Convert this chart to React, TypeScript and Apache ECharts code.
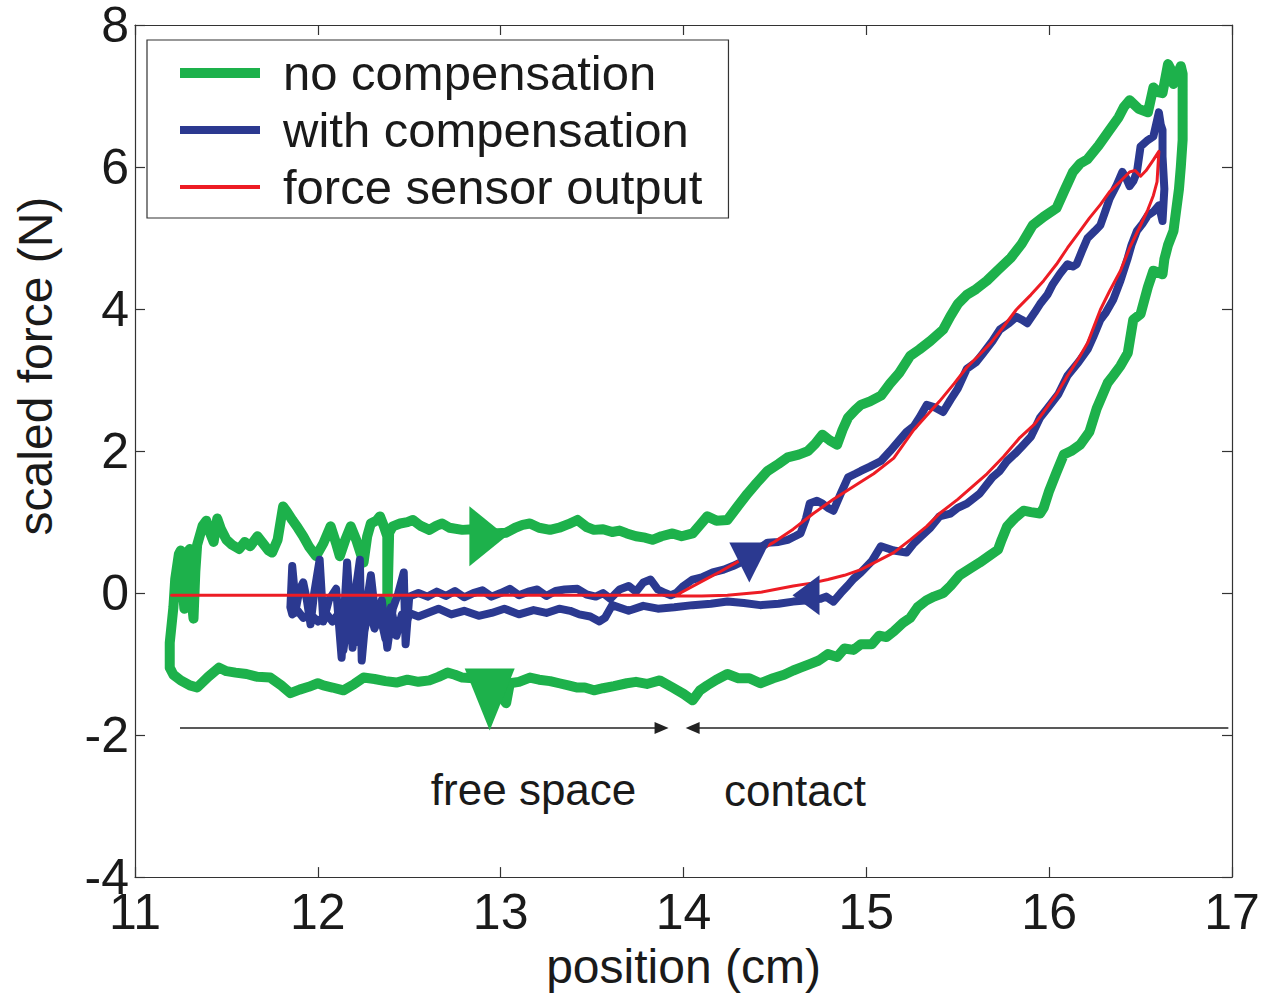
import React, { useEffect, useRef } from "react";
import * as echarts from "echarts";

// ---------- data ----------
const xTicks = [11, 12, 13, 14, 15, 16, 17];
const yTicks = [-4, -2, 0, 2, 4, 6, 8];

// "no compensation" loop (green), traced in pieces
const greenLeft: number[][] = [
  [11.19, -1.05], [11.19, -0.7], [11.21, -0.2], [11.22, 0.2], [11.24, 0.55], [11.25, 0.6],
  [11.26, 0.1], [11.27, -0.22], [11.28, 0.55], [11.3, 0.62], [11.31, -0.1], [11.32, -0.36],
  [11.33, 0.3], [11.34, 0.68], [11.37, 0.95], [11.39, 1.02],
];
const greenUpper: number[][] = [
  [11.41, 0.85], [11.43, 0.72], [11.45, 1.05], [11.47, 0.9], [11.5, 0.75], [11.53, 0.68],
  [11.57, 0.62], [11.6, 0.72], [11.63, 0.66], [11.67, 0.8], [11.7, 0.7], [11.73, 0.6],
  [11.75, 0.57], [11.78, 0.75], [11.81, 1.22], [11.83, 1.15], [11.86, 1.03], [11.89, 0.92],
  [11.92, 0.8], [11.95, 0.66], [11.99, 0.52], [12.03, 0.7], [12.07, 0.94], [12.1, 0.7],
  [12.12, 0.52], [12.15, 0.75], [12.18, 0.94], [12.21, 0.75], [12.25, 0.43], [12.27, 0.8],
  [12.29, 0.98], [12.32, 1.02], [12.34, 1.08], [12.36, 0.95], [12.38, 0.8], [12.38, -0.24],
  [12.39, 0.85], [12.41, 0.94], [12.45, 0.98], [12.49, 1.0], [12.52, 1.03], [12.56, 0.95],
  [12.61, 0.89], [12.65, 0.95], [12.68, 0.98], [12.72, 0.92], [12.79, 0.89], [12.85, 0.9],
  [12.9, 0.86], [12.96, 0.84], [13.03, 0.85], [13.08, 0.92], [13.12, 0.96], [13.16, 0.98],
  [13.21, 0.92], [13.27, 0.89], [13.32, 0.92], [13.37, 0.97], [13.42, 1.03], [13.47, 0.93],
  [13.51, 0.89], [13.56, 0.9], [13.61, 0.86], [13.65, 0.88], [13.69, 0.84], [13.74, 0.8],
  [13.79, 0.78], [13.83, 0.75], [13.88, 0.8], [13.94, 0.84], [13.99, 0.8], [14.05, 0.84],
  [14.09, 0.96], [14.13, 1.08], [14.18, 1.02], [14.24, 1.03], [14.29, 1.2], [14.35, 1.4],
  [14.4, 1.55], [14.46, 1.72], [14.52, 1.82], [14.57, 1.91], [14.63, 1.95], [14.68, 2.0],
  [14.72, 2.1], [14.76, 2.23], [14.8, 2.15], [14.84, 2.09], [14.87, 2.3], [14.9, 2.47],
  [14.94, 2.58], [14.97, 2.65], [15.02, 2.7], [15.08, 2.78], [15.13, 2.95], [15.18, 3.1],
  [15.24, 3.34], [15.29, 3.43], [15.35, 3.55], [15.42, 3.71], [15.46, 3.9], [15.5, 4.07],
  [15.55, 4.2], [15.6, 4.28], [15.66, 4.4], [15.72, 4.55], [15.79, 4.72], [15.85, 4.92],
  [15.91, 5.18], [15.97, 5.3], [16.04, 5.42], [16.08, 5.65], [16.13, 5.93], [16.17, 6.05],
  [16.21, 6.11], [16.27, 6.3], [16.33, 6.52], [16.38, 6.7], [16.41, 6.85], [16.44, 6.94],
  [16.49, 6.82], [16.54, 6.77], [16.57, 7.12], [16.6, 7.05], [16.62, 7.04], [16.65, 7.45],
  [16.67, 7.35], [16.68, 7.17], [16.7, 7.3], [16.72, 7.42], [16.73, 7.31],
];
const greenRight: number[][] = [
  [16.73, 6.9], [16.73, 6.38], [16.72, 6.0], [16.71, 5.69], [16.69, 5.3], [16.68, 5.1],
  [16.65, 4.9], [16.63, 4.7], [16.62, 4.49], [16.57, 4.54], [16.54, 4.31], [16.5, 3.93],
  [16.46, 3.85], [16.43, 3.38], [16.39, 3.2], [16.35, 3.06], [16.32, 2.96], [16.26, 2.6],
  [16.22, 2.27],
];
const greenLower: number[][] = [
  [16.17, 2.09], [16.12, 2.0], [16.08, 1.95], [16.04, 1.7], [16.0, 1.44], [15.97, 1.2],
  [15.95, 1.12], [15.9, 1.14], [15.86, 1.16], [15.81, 1.05], [15.77, 0.94], [15.74, 0.75],
  [15.72, 0.61], [15.67, 0.52], [15.62, 0.43], [15.57, 0.35], [15.51, 0.25], [15.46, 0.1],
  [15.42, 0.0], [15.37, -0.05], [15.33, -0.1], [15.28, -0.2], [15.24, -0.35], [15.2, -0.42],
  [15.15, -0.54], [15.11, -0.62], [15.07, -0.6], [15.03, -0.72], [14.97, -0.72], [14.93, -0.8],
  [14.88, -0.78], [14.84, -0.9], [14.79, -0.86], [14.74, -0.95], [14.69, -1.0], [14.64, -1.05],
  [14.6, -1.09], [14.55, -1.15], [14.49, -1.2], [14.42, -1.27], [14.36, -1.2], [14.3, -1.2],
  [14.24, -1.14], [14.18, -1.22], [14.13, -1.3], [14.09, -1.37], [14.05, -1.51], [14.0, -1.42],
  [13.94, -1.33], [13.87, -1.23], [13.8, -1.28], [13.74, -1.25], [13.69, -1.27], [13.62, -1.31],
  [13.56, -1.34], [13.51, -1.37], [13.46, -1.33], [13.42, -1.33], [13.37, -1.3], [13.32, -1.27],
  [13.27, -1.24], [13.21, -1.22], [13.16, -1.19], [13.1, -1.25], [13.05, -1.27], [13.03, -1.55],
  [13.0, -1.45], [12.95, -1.3], [12.9, -1.22], [12.85, -1.2], [12.79, -1.19], [12.75, -1.15],
  [12.71, -1.12], [12.66, -1.18], [12.61, -1.23], [12.55, -1.25], [12.49, -1.22], [12.43, -1.26],
  [12.37, -1.24], [12.31, -1.21], [12.25, -1.19], [12.2, -1.28], [12.14, -1.37], [12.08, -1.33],
  [12.03, -1.3], [12.0, -1.27], [11.95, -1.32], [11.9, -1.36], [11.85, -1.41], [11.8, -1.3],
  [11.74, -1.19], [11.67, -1.18], [11.61, -1.14], [11.55, -1.12], [11.5, -1.1], [11.46, -1.05],
  [11.4, -1.18], [11.34, -1.33], [11.3, -1.3], [11.25, -1.23], [11.21, -1.15], [11.19, -1.05],
];

// "with compensation" (blue)
const blueFreeOut: number[][] = [
  [11.85, -0.2], [11.86, 0.38], [11.87, 0.1], [11.88, -0.22], [11.9, 0.05], [11.92, 0.15],
  [11.94, -0.1], [11.96, -0.44], [11.98, 0.0], [12.01, 0.47], [12.03, -0.4], [12.06, -0.1],
  [12.1, 0.06], [12.13, -0.91], [12.16, 0.43], [12.19, -0.77], [12.21, 0.1], [12.23, 0.47],
  [12.24, -0.95], [12.27, -0.1], [12.29, 0.25], [12.32, -0.44], [12.35, -0.1], [12.38, -0.77],
  [12.41, -0.22], [12.44, 0.0], [12.47, 0.29], [12.48, -0.72], [12.5, -0.05], [12.55, 0.0],
  [12.6, -0.05], [12.65, 0.02], [12.7, -0.04], [12.75, 0.03], [12.8, -0.06], [12.85, 0.0],
  [12.9, 0.04], [12.95, -0.05], [13.0, 0.0], [13.05, 0.06], [13.1, -0.03], [13.15, 0.02],
  [13.2, 0.05], [13.25, -0.04], [13.3, 0.03], [13.35, 0.05], [13.42, 0.06], [13.47, -0.02],
  [13.52, -0.05], [13.56, 0.0], [13.6, -0.08], [13.65, 0.05], [13.7, 0.1], [13.74, 0.02],
  [13.78, 0.15], [13.82, 0.19], [13.86, 0.05], [13.9, 0.0], [13.93, -0.03],
];
const blueLoading: number[][] = [
  [13.96, 0.0], [14.0, 0.1], [14.05, 0.19], [14.1, 0.22], [14.16, 0.29], [14.22, 0.33],
  [14.27, 0.38], [14.31, 0.43], [14.36, 0.5], [14.41, 0.62], [14.46, 0.71], [14.52, 0.72],
  [14.57, 0.75], [14.61, 0.8], [14.64, 0.84], [14.67, 1.05], [14.69, 1.26], [14.73, 1.3],
  [14.76, 1.26], [14.79, 1.2], [14.82, 1.16], [14.86, 1.4], [14.9, 1.63], [14.94, 1.68],
  [14.97, 1.72], [15.02, 1.78], [15.08, 1.86], [15.13, 2.0], [15.18, 2.15], [15.22, 2.27],
  [15.26, 2.35], [15.29, 2.47], [15.33, 2.65], [15.37, 2.62], [15.42, 2.55], [15.46, 2.72],
  [15.5, 2.88], [15.55, 3.16], [15.6, 3.25], [15.64, 3.38], [15.69, 3.55], [15.73, 3.71],
  [15.78, 3.8], [15.82, 3.89], [15.85, 3.85], [15.88, 3.8], [15.92, 3.95], [15.95, 4.07],
  [15.99, 4.2], [16.02, 4.35], [16.06, 4.5], [16.1, 4.63], [16.13, 4.6], [16.15, 4.63],
  [16.18, 4.82], [16.21, 5.0], [16.25, 5.1], [16.28, 5.18], [16.31, 5.4], [16.33, 5.55],
  [16.37, 5.75], [16.4, 5.93], [16.42, 5.85], [16.44, 5.73], [16.46, 5.8], [16.48, 5.93],
  [16.5, 6.29], [16.54, 6.38], [16.57, 6.43], [16.6, 6.77], [16.61, 6.6], [16.62, 6.52],
  [16.62, 6.15], [16.63, 5.69], [16.62, 5.24], [16.6, 5.46], [16.57, 5.37], [16.54, 5.32],
];
const blueUnloading: number[][] = [
  [16.51, 5.2], [16.48, 5.1], [16.45, 4.9], [16.43, 4.72], [16.39, 4.4], [16.35, 4.13],
  [16.31, 3.95], [16.28, 3.85], [16.24, 3.6], [16.21, 3.43], [16.16, 3.25], [16.1, 3.06],
  [16.05, 2.8], [15.99, 2.6], [15.95, 2.47], [15.9, 2.2], [15.86, 2.09], [15.82, 1.98],
  [15.77, 1.86], [15.73, 1.72], [15.69, 1.63], [15.62, 1.4], [15.55, 1.26], [15.5, 1.2],
  [15.46, 1.12], [15.4, 1.08], [15.35, 0.92], [15.3, 0.8], [15.26, 0.7], [15.22, 0.57],
  [15.15, 0.6], [15.08, 0.66], [15.03, 0.45], [14.97, 0.29], [14.93, 0.2], [14.9, 0.11],
  [14.86, 0.0], [14.82, -0.12], [14.78, -0.05], [14.75, -0.08], [14.68, -0.1], [14.6, -0.12],
  [14.52, -0.15], [14.42, -0.17], [14.33, -0.14], [14.24, -0.12], [14.15, -0.15], [14.05, -0.17],
  [13.95, -0.2], [13.86, -0.22], [13.78, -0.18], [13.7, -0.25], [13.61, -0.17], [13.57, -0.35],
  [13.54, -0.4], [13.49, -0.33], [13.43, -0.3], [13.38, -0.25], [13.32, -0.22], [13.25, -0.28],
  [13.18, -0.24], [13.1, -0.3], [13.02, -0.22], [12.95, -0.28], [12.88, -0.32], [12.8, -0.25],
  [12.73, -0.3], [12.66, -0.22], [12.6, -0.28], [12.55, -0.33], [12.5, -0.28], [12.48, -0.5],
  [12.46, -0.3], [12.43, -0.6], [12.4, -0.2], [12.37, -0.65], [12.34, -0.3], [12.31, -0.5],
  [12.28, -0.2], [12.25, -0.6], [12.22, -0.3], [12.2, -0.7], [12.17, -0.2], [12.14, -0.8],
  [12.11, -0.3], [12.08, -0.4], [12.05, -0.3], [12.0, -0.4], [11.96, -0.3], [11.92, -0.35],
  [11.89, -0.25], [11.86, -0.3], [11.85, -0.2],
];

// "force sensor output" (red)
const redFree: number[][] = [[11.2, -0.03], [12.5, -0.03], [13.96, -0.03]];
const redLoading: number[][] = [
  [14.09, 0.15], [14.2, 0.3], [14.31, 0.46], [14.4, 0.58], [14.49, 0.71], [14.6, 0.9],
  [14.71, 1.12], [14.82, 1.32], [14.93, 1.5], [15.04, 1.68], [15.15, 1.9], [15.26, 2.3],
  [15.33, 2.5], [15.4, 2.7], [15.48, 2.95], [15.55, 3.18], [15.62, 3.36], [15.68, 3.52],
  [15.75, 3.75], [15.82, 3.99], [15.9, 4.2], [15.97, 4.4], [16.04, 4.63], [16.1, 4.86],
  [16.16, 5.07], [16.22, 5.28], [16.28, 5.47], [16.33, 5.65], [16.39, 5.8], [16.44, 5.93],
  [16.47, 5.95], [16.5, 5.87], [16.53, 5.95], [16.57, 6.1], [16.6, 6.22],
];
const redUnloading: number[][] = [
  [16.59, 5.79], [16.57, 5.6], [16.54, 5.4], [16.5, 5.18], [16.44, 4.86], [16.39, 4.54],
  [16.33, 4.25], [16.28, 3.99], [16.21, 3.52], [16.16, 3.3], [16.1, 3.06], [16.04, 2.8],
  [15.97, 2.55], [15.92, 2.38], [15.84, 2.19], [15.75, 1.92], [15.66, 1.68], [15.58, 1.5],
  [15.5, 1.32], [15.4, 1.12], [15.33, 0.94], [15.24, 0.75], [15.15, 0.57], [15.06, 0.45],
  [14.97, 0.33], [14.88, 0.25], [14.79, 0.19], [14.7, 0.14], [14.6, 0.1], [14.5, 0.05],
  [14.42, 0.01], [14.33, -0.01], [14.24, -0.03], [14.1, -0.04], [13.96, -0.04],
];

// direction arrows on the loops: [x, y, rotation(deg), base, length]
const greenArrows: number[][] = [
  [12.93, 0.8, -90, 60, 37],
  [12.94, -1.5, 180, 50, 62],
];
const blueArrows: number[][] = [
  [14.36, 0.43, 180, 40, 40],
  [14.67, -0.03, 90, 40, 27],
];

// annotation: region arrows and labels
const regionArrowY = -1.9;
const freeSpaceSpan = [11.246, 13.88];
const contactSpan = [16.98, 14.05];
const regionLabels = [
  { name: "free space", x: 13.18, y: -2.76 },
  { name: "contact", x: 14.61, y: -2.78 },
];

const FONT = "'Liberation Sans', Arial, Helvetica, sans-serif";
const GREEN = "#1db14b";
const BLUE = "#2b3990";
const RED = "#ed1c24";
const INK = "#1a1a1a";

export default function App() {
  const ref = useRef<HTMLDivElement>(null);

  useEffect(() => {
    if (!ref.current) return;
    const chart = echarts.init(ref.current, null, { renderer: "svg" });

    const greenData = [...greenLeft, ...greenUpper, ...greenRight, ...greenLower];
    const blueData = [...blueFreeOut, ...blueLoading, ...blueUnloading];
    const redData = [...redFree, ...redLoading, ...redUnloading];

    const axisCommon = {
      axisLine: { show: true, onZero: false, lineStyle: { color: "#333", width: 1.2 } },
      axisTick: { show: true, inside: true, length: 10, lineStyle: { color: "#333", width: 1.2 } },
      splitLine: { show: false },
    };

    const arrowItems = (arr: number[][], color: string) =>
      arr.map((a) => ({
        value: [a[0], a[1]],
        symbolRotate: a[2],
        symbolSize: [a[3], a[4]],
        itemStyle: { color, opacity: 1 },
      }));

    const hiddenDot = { opacity: 0 };

    const option: any = {
      animation: false,
      backgroundColor: "#ffffff",
      grid: { left: 135, top: 24, width: 1097, height: 866, containLabel: false },
      legend: {
        data: [
          { name: "no compensation", lineStyle: { width: 10, cap: "butt" }, itemStyle: hiddenDot },
          { name: "with compensation", lineStyle: { width: 8, cap: "butt" }, itemStyle: hiddenDot },
          { name: "force sensor output", lineStyle: { width: 4, cap: "butt" }, itemStyle: hiddenDot },
        ],
        orient: "vertical",
        left: 147,
        top: 40,
        backgroundColor: "#fff",
        borderColor: "#333",
        borderWidth: 1.2,
        borderRadius: 0,
        padding: [8, 26, 6, 28],
        itemWidth: 80,
        itemHeight: 12,
        itemGap: 7,
        selectedMode: false,
        textStyle: { fontSize: 49, fontFamily: FONT, color: INK, lineHeight: 50, padding: [0, 0, 0, 18] },
      },
      xAxis: [
        {
          type: "value",
          min: xTicks[0],
          max: xTicks[xTicks.length - 1],
          interval: 1,
          position: "bottom",
          ...axisCommon,
          axisLabel: { fontSize: 50, fontFamily: FONT, color: INK, margin: 15, lineHeight: 40 },
          name: "position (cm)",
          nameLocation: "middle",
          nameGap: 52,
          nameTextStyle: { fontSize: 48, fontFamily: FONT, color: INK },
        },
        {
          type: "value",
          min: xTicks[0],
          max: xTicks[xTicks.length - 1],
          interval: 1,
          position: "top",
          ...axisCommon,
          axisLabel: { show: false },
        },
      ],
      yAxis: [
        {
          type: "value",
          min: yTicks[0],
          max: yTicks[yTicks.length - 1],
          interval: 2,
          position: "left",
          ...axisCommon,
          axisLabel: { fontSize: 50, fontFamily: FONT, color: INK, margin: 6, lineHeight: 40 },
          name: "scaled force (N)",
          nameLocation: "middle",
          nameGap: 76,
          nameTextStyle: { fontSize: 48, fontFamily: FONT, color: INK, padding: [0, 0, 0, 170] },
        },
        {
          type: "value",
          min: yTicks[0],
          max: yTicks[yTicks.length - 1],
          interval: 2,
          position: "right",
          ...axisCommon,
          axisLabel: { show: false },
        },
      ],
      series: [
        {
          name: "no compensation",
          type: "line",
          data: greenData,
          symbol: "none",
          lineStyle: { color: GREEN, width: 10, cap: "round", join: "round" },
          itemStyle: { color: GREEN },
          z: 2,
        },
        {
          name: "with compensation",
          type: "line",
          data: blueData,
          symbol: "none",
          lineStyle: { color: BLUE, width: 8, cap: "round", join: "round" },
          itemStyle: { color: BLUE },
          z: 3,
        },
        {
          name: "force sensor output",
          type: "line",
          data: redData,
          symbol: "none",
          lineStyle: { color: RED, width: 3, cap: "round", join: "round" },
          itemStyle: { color: RED },
          z: 4,
        },
        {
          name: "arrows",
          type: "scatter",
          symbol: "triangle",
          data: [...arrowItems(greenArrows, GREEN), ...arrowItems(blueArrows, BLUE)],
          itemStyle: { opacity: 1 },
          z: 5,
          silent: true,
        },
        {
          name: "regions",
          type: "line",
          data: [],
          symbol: "none",
          silent: true,
          markLine: {
            silent: true,
            symbol: ["none", "triangle"],
            symbolSize: [12, 14],
            label: { show: false },
            lineStyle: { color: "#222", width: 1.5, type: "solid" },
            data: [
              [{ coord: [freeSpaceSpan[0], regionArrowY] }, { coord: [freeSpaceSpan[1], regionArrowY] }],
              [{ coord: [contactSpan[0], regionArrowY] }, { coord: [contactSpan[1], regionArrowY] }],
            ],
          },
        },
        {
          name: "regionLabels",
          type: "scatter",
          symbolSize: 1,
          itemStyle: { color: "rgba(0,0,0,0)", opacity: 1 },
          silent: true,
          data: regionLabels.map((r) => ({ name: r.name, value: [r.x, r.y] })),
          label: {
            show: true,
            position: "inside",
            formatter: (p: any) => p.name,
            fontSize: 44,
            fontFamily: FONT,
            color: INK,
            opacity: 1,
          },
        },
      ],
    };

    chart.setOption(option);
    return () => chart.dispose();
  }, []);

  return (
    <div
      ref={ref}
      style={{ position: "absolute", left: 0, top: 0, width: 1277, height: 995, background: "#fff" }}
    />
  );
}
